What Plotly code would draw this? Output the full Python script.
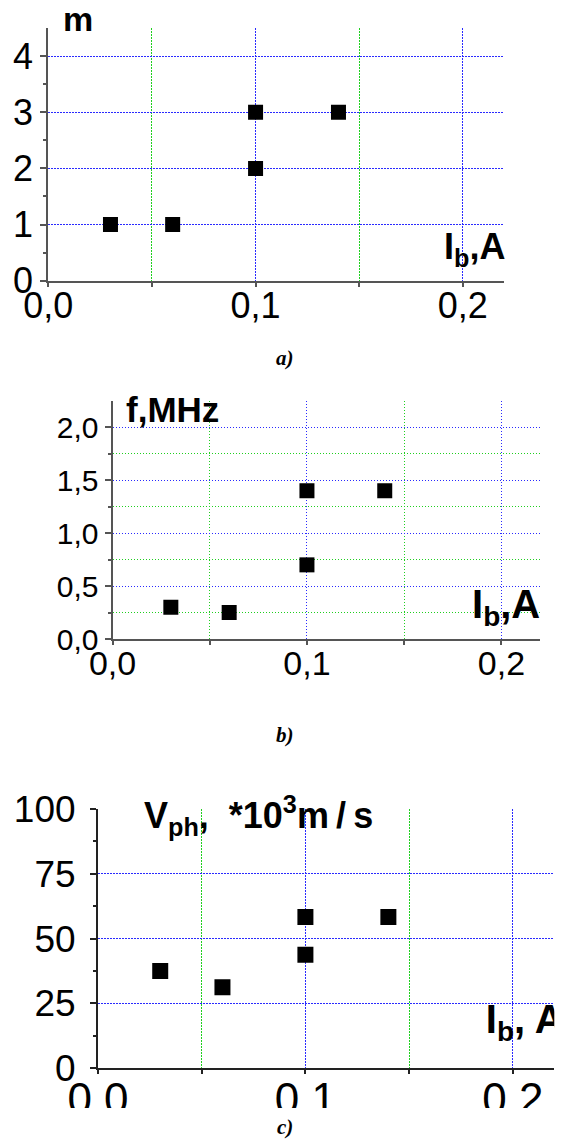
import plotly.graph_objects as go

W, H = 574, 1139

# ---------------- data ----------------
ib = [0.03, 0.06, 0.10, 0.10, 0.14]          # I_b, A
m_vals = [1, 1, 2, 3, 3]                      # mode number m
f_vals = [0.30, 0.25, 0.70, 1.40, 1.40]       # f, MHz
v_vals = [37.5, 31.25, 43.75, 58.33, 58.33]   # V_ph, *10^3 m/s

x_tickvals = [0, 0.1, 0.2]
x_ticktext_comma = ["0,0", "0,1", "0,2"]
x_ticktext_dot = ["0.0", "0.1", "0.2"]
x_minorvals = [0.05, 0.15]

ya_tickvals = [0, 1, 2, 3, 4]
ya_ticktext = ["0", "1", "2", "3", "4"]
ya_minorvals = [0.5, 1.5, 2.5, 3.5]

yb_tickvals = [0, 0.5, 1.0, 1.5, 2.0]
yb_ticktext = ["0,0", "0,5", "1,0", "1,5", "2,0"]
yb_minorvals = [0.25, 0.75, 1.25, 1.75]

yc_tickvals = [0, 25, 50, 75, 100]
yc_ticktext = ["0", "25", "50", "75", "100"]
yc_minorvals = [12.5, 37.5, 62.5, 87.5]

BLUE = "#2a2aff"
GREEN = "#1fd01f"
DOT = "1.5px,1.5px"
FONT = "Liberation Sans, Arial, sans-serif"
SERIF = "Liberation Serif, Times New Roman, serif"


def px_x(p):
    return p / W


def px_y(p):
    return 1 - p / H


fig = go.Figure()

for i, yv in enumerate([m_vals, f_vals, v_vals]):
    sfx = "" if i == 0 else str(i + 1)
    fig.add_trace(go.Scatter(
        x=ib, y=yv, mode="markers", xaxis="x" + sfx, yaxis="y" + sfx,
        marker=dict(symbol="square", size=15 if i < 2 else 16, color="black",
                    line=dict(width=0)),
        showlegend=False, hoverinfo="skip"))

# clipped axis title of panel c (text clipped by the plot area like the original)
fig.add_trace(go.Scatter(
    x=[0.187], y=[17.5], mode="text", xaxis="x3", yaxis="y3",
    text=["<b>I<sub>b</sub>, A</b>"], textposition="middle right",
    textfont=dict(family=FONT, size=40, color="black"),
    showlegend=False, hoverinfo="skip", cliponaxis=True))


def xaxis(dom, anchor, ticktext, fs, linecolor, standoff):
    return dict(
        domain=dom, anchor=anchor, range=[0, 0.22], autorange=False,
        automargin=False, ticklabelstandoff=standoff,
        tickmode="array", tickvals=x_tickvals, ticktext=ticktext,
        tickfont=dict(family=FONT, size=fs, color="black"),
        showline=True, linewidth=2, linecolor=linecolor,
        ticks="outside", ticklen=4, tickwidth=1.5, tickcolor=linecolor,
        showgrid=True, gridcolor=BLUE, gridwidth=1, griddash=DOT,
        zeroline=False,
        minor=dict(tickmode="array", tickvals=x_minorvals, ticks="outside",
                   ticklen=4, tickwidth=1.5, tickcolor=linecolor,
                   showgrid=True, gridcolor=GREEN, gridwidth=1, griddash=DOT),
    )


def yaxis(dom, anchor, rng, tv, tt, mv, fs, linecolor, minor_grid, standoff):
    mn = dict(tickmode="array", tickvals=mv, ticks="outside", ticklen=3,
              tickwidth=1.5, tickcolor=linecolor, showgrid=minor_grid)
    if minor_grid:
        mn.update(gridcolor=GREEN, gridwidth=1, griddash=DOT)
    return dict(
        domain=dom, anchor=anchor, range=rng, autorange=False,
        automargin=False, ticklabelstandoff=standoff,
        tickmode="array", tickvals=tv, ticktext=tt,
        tickfont=dict(family=FONT, size=fs, color="black"),
        showline=True, linewidth=2, linecolor=linecolor,
        ticks="outside", ticklen=6, tickwidth=1.5, tickcolor=linecolor,
        showgrid=True, gridcolor=BLUE, gridwidth=1, griddash=DOT,
        zeroline=False, minor=mn,
    )


fig.update_layout(
    width=W, height=H, margin=dict(l=0, r=0, t=0, b=0, autoexpand=False),
    paper_bgcolor="white", plot_bgcolor="white",
    xaxis=xaxis([px_x(48.3), px_x(504.3)], "y", x_ticktext_comma, 36, "#555", -12),
    yaxis=yaxis([px_y(280.7), px_y(28)], "x", [0, 4.5], ya_tickvals, ya_ticktext,
                ya_minorvals, 36, "#555", False, 0),
    xaxis2=xaxis([px_x(112.5), px_x(540.3)], "y2", x_ticktext_comma, 34, "#555", -11),
    yaxis2=yaxis([px_y(639), px_y(400.7)], "x2", [0, 2.25], yb_tickvals, yb_ticktext,
                 yb_minorvals, 30, "#555", True, 0),
    xaxis3=xaxis([px_x(98), px_x(554.3)], "y3", x_ticktext_dot, 44, "#222", -13),
    yaxis3=yaxis([px_y(1068.3), px_y(809)], "x3", [0, 100], yc_tickvals, yc_ticktext,
                 yc_minorvals, 37, "#222", False, 7),
)


def ann(text, x, y, size, xanchor="left", family=FONT):
    fig.add_annotation(text=text, x=px_x(x), y=px_y(y), xref="paper", yref="paper",
                       xanchor=xanchor, yanchor="middle", showarrow=False,
                       font=dict(family=family, size=size, color="black"))


# panel a labels
ann("<b>m</b>", 61, 19, 34)
ann("<b>I<sub>b</sub>,A</b>", 507, 249, 36, xanchor="right")
ann("<b><i>a)</i></b>", 285, 358, 21, xanchor="center", family=SERIF)

# panel b labels
ann("<b>f,MHz</b>", 124, 409, 35)
ann("<b>I<sub>b</sub>,A</b>", 542, 607, 40, xanchor="right")
ann("<b><i>b)</i></b>", 285, 735, 21, xanchor="center", family=SERIF)

# panel c labels
ann("<b>V<sub>ph</sub>,\u00a0\u00a0*10<sup>3</sup>m\u2009/\u2009s</b>", 142, 815, 36)

# white band that crops the bottom of panel c's tick labels like the original
fig.add_shape(type="rect", xref="paper", yref="paper", layer="above",
              x0=0, x1=1, y0=0, y1=px_y(1108), fillcolor="white", line=dict(width=0))
ann("<b><i>c)</i></b>", 285, 1127, 21, xanchor="center", family=SERIF)

fig.write_html("out.html")
